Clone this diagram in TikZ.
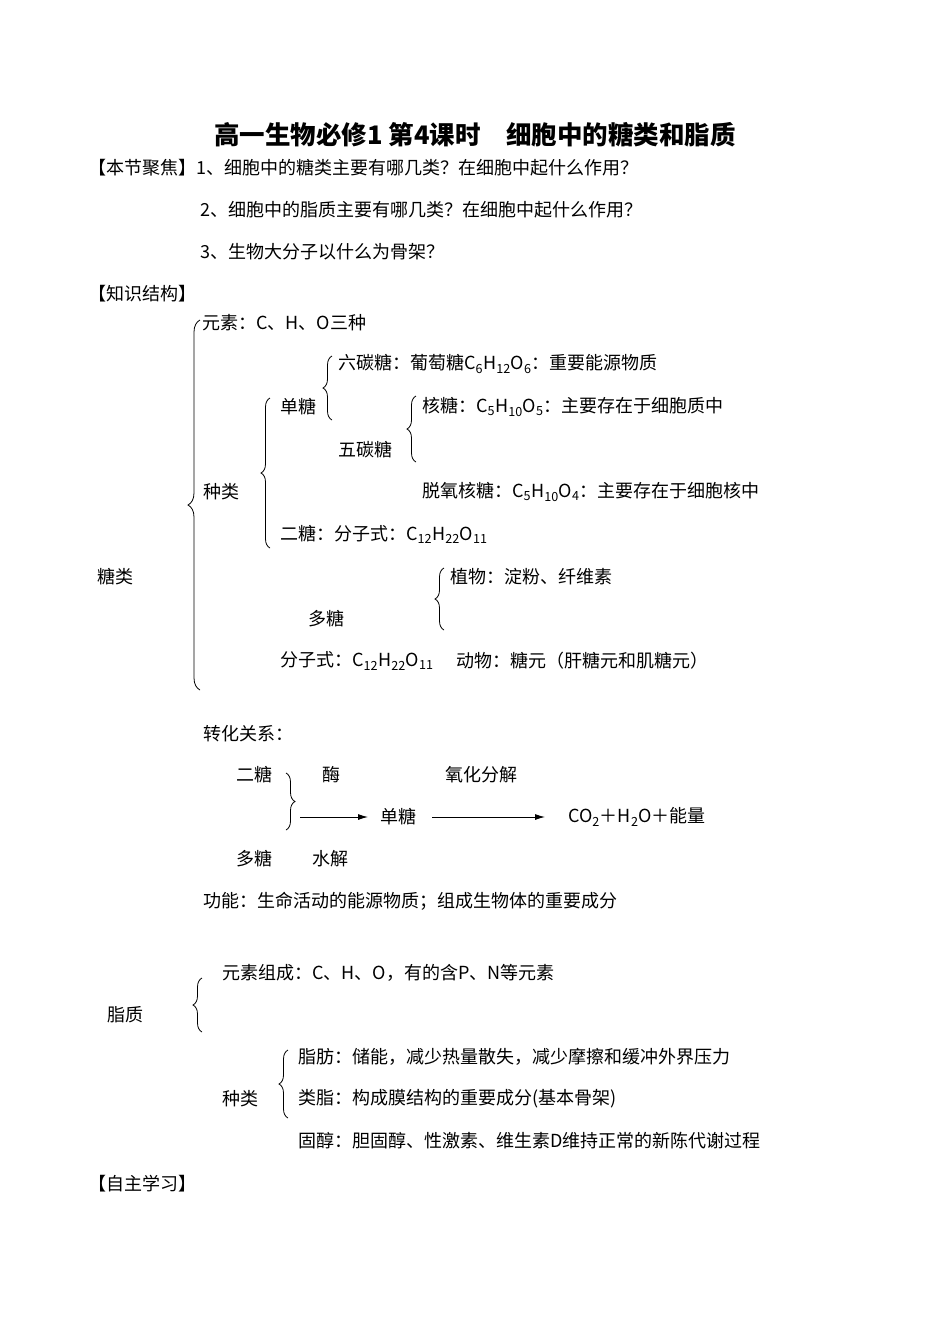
\documentclass[tikz,border=0pt]{standalone}
\usepackage{fontspec}
\setmainfont{Liberation Serif}
\newfontfamily\cjk{Noto Sans CJK SC}
\usetikzlibrary{decorations.pathreplacing,arrows.meta}
\begin{document}
\begin{tikzpicture}[x=1pt,y=-1pt,
  t/.style={anchor=west,inner sep=0pt,font=\cjk\fontsize{18}{21}\selectfont},
  br/.style={decorate,decoration={brace,amplitude=9pt},line width=0.8pt},
  arr/.style={-{Latex[length=10pt,width=6pt]},line width=0.9pt}]
\useasboundingbox (0,0) rectangle (950,1342);
\node[anchor=center,inner sep=0pt,font=\cjk\bfseries\fontsize{25.5}{28}\selectfont] (title) at (475,135) {高一生物必修1 第4课时\quad 细胞中的糖类和脂质};
\node[t] (f1) at (88,168) {【本节聚焦】1、细胞中的糖类主要有哪几类？在细胞中起什么作用？};
\node[t] (f2) at (200,210) {2、细胞中的脂质主要有哪几类？在细胞中起什么作用？};
\node[t] (f3) at (200,252) {3、生物大分子以什么为骨架？};
\node[t] (zs) at (88,294) {【知识结构】};
\node[t] (ys) at (202,323) {元素：C、H、O三种};
\node[t] (lt) at (338,364) {六碳糖：葡萄糖C\textsubscript{6}H\textsubscript{12}O\textsubscript{6}：重要能源物质};
\node[t] (dt) at (280,407) {单糖};
\node[t] (ht) at (422,407) {核糖：C\textsubscript{5}H\textsubscript{10}O\textsubscript{5}：主要存在于细胞质中};
\node[t] (wt) at (338,450) {五碳糖};
\node[t] (tt) at (422,492) {脱氧核糖：C\textsubscript{5}H\textsubscript{10}O\textsubscript{4}：主要存在于细胞核中};
\node[t] (zl) at (203,492) {种类};
\node[t] (et) at (280,534) {二糖：分子式：C\textsubscript{12}H\textsubscript{22}O\textsubscript{11}};
\node[t] (tl) at (97,577) {糖类};
\node[t] (zw) at (450,577) {植物：淀粉、纤维素};
\node[t] (dut) at (308,619) {多糖};
\node[t] (fz) at (280,661) {分子式：C\textsubscript{12}H\textsubscript{22}O\textsubscript{11}};
\node[t] (dw) at (456,661) {动物：糖元（肝糖元和肌糖元）};
\node[t] (zh) at (203,734) {转化关系：};
\node[t] (e2) at (236,775) {二糖};
\node[t] (mei) at (322,775) {酶};
\node[t] (yh) at (445,775) {氧化分解};
\node[t] (dt2) at (380,817) {单糖};
\node[t] (co) at (568,817) {CO\textsubscript{2}＋H\textsubscript{2}O＋能量};
\node[t] (d2) at (236,859) {多糖};
\node[t] (sj) at (312,859) {水解};
\node[t] (gn) at (203,901) {功能：生命活动的能源物质；组成生物体的重要成分};
\node[t] (yszc) at (222,973) {元素组成：C、H、O，有的含P、N等元素};
\node[t] (zz) at (107,1015) {脂质};
\node[t] (zf) at (298,1057) {脂肪：储能，减少热量散失，减少摩擦和缓冲外界压力};
\node[t] (zl2) at (222,1099) {种类};
\node[t] (lz) at (298,1099) {类脂：构成膜结构的重要成分(基本骨架)};
\node[t] (gc) at (298,1141) {固醇：胆固醇、性激素、维生素D维持正常的新陈代谢过程};
\node[t] (zx) at (88,1184) {【自主学习】};
% braces
\coordinate (b1t) at (200,320); \coordinate (b1b) at (200,690);
\draw[br,decoration={amplitude=12pt}] (b1b) -- (b1t);
\coordinate (b2t) at (332,356); \coordinate (b2b) at (332,420);
\draw[br] (b2b) -- (b2t);
\coordinate (b3t) at (416,396); \coordinate (b3b) at (416,462);
\draw[br] (b3b) -- (b3t);
\coordinate (b4t) at (270,398); \coordinate (b4b) at (270,548);
\draw[br] (b4b) -- (b4t);
\coordinate (b5t) at (444,568); \coordinate (b5b) at (444,630);
\draw[br] (b5b) -- (b5t);
\coordinate (b6t) at (286,773); \coordinate (b6b) at (286,830);
\draw[br] (b6t) -- (b6b);
\coordinate (b7t) at (202,978); \coordinate (b7b) at (202,1032);
\draw[br] (b7b) -- (b7t);
\coordinate (b8t) at (288,1050); \coordinate (b8b) at (288,1118);
\draw[br] (b8b) -- (b8t);
% arrows
\coordinate (a1) at (300,817);
\draw[arr] (a1) -- (dt2.west -| 368,0);
\draw[arr] (dt2.east -| 432,0) -- (co.west -| 545,0);
\end{tikzpicture}
\end{document}
